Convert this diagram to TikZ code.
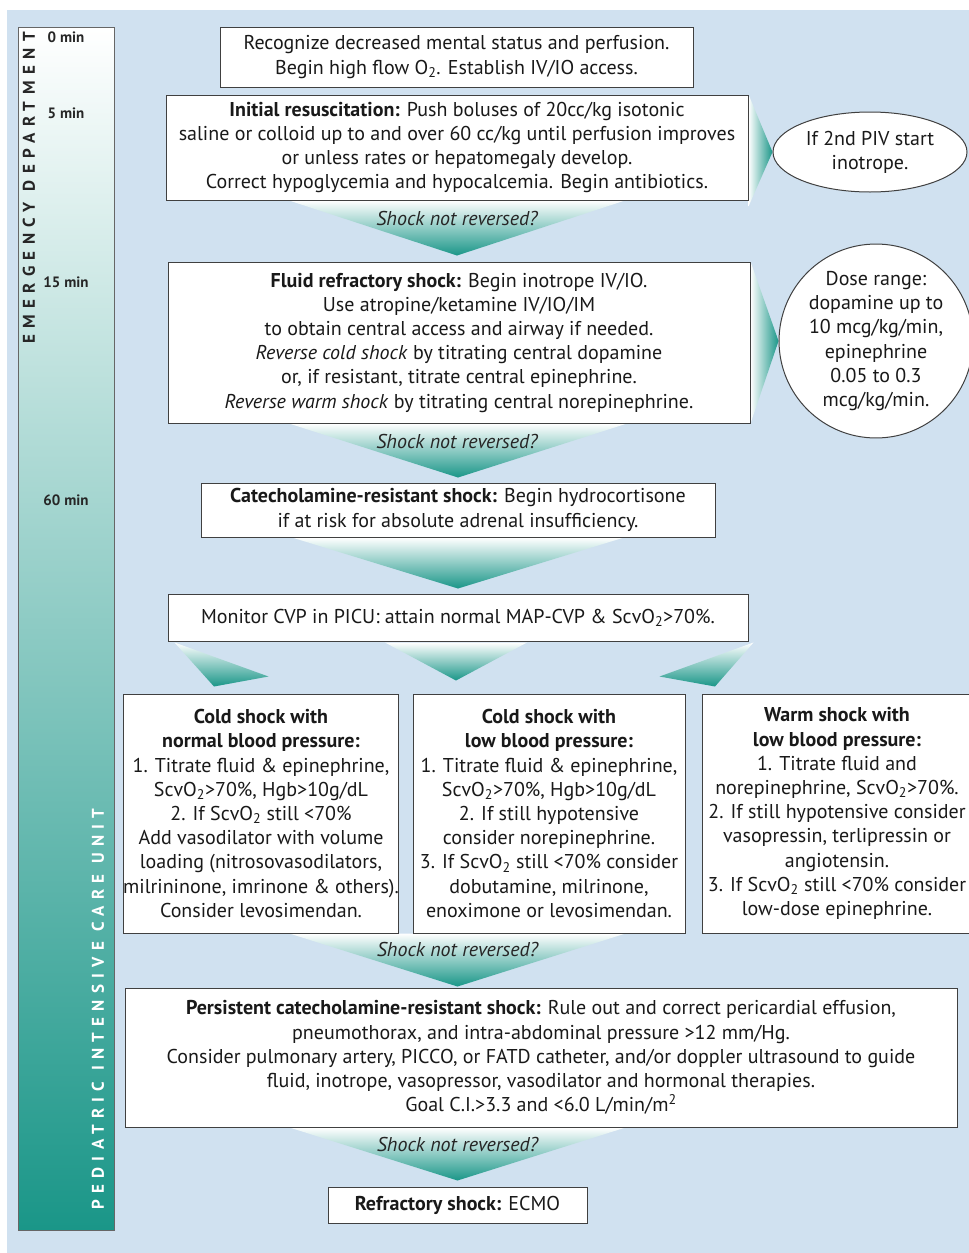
\documentclass[tikz,border=0pt]{standalone}
\usepackage{fontspec}
\setmainfont{PT Sans}
\usetikzlibrary{calc,shapes.geometric,backgrounds}
\definecolor{bgblue}{RGB}{208,225,240}
\definecolor{shockteal}{RGB}{26,150,136}

\begin{document}
\begin{tikzpicture}
[x=1pt,y=-1pt,
box/.style={draw=black!75,fill=white,line width=1pt,align=center,inner sep=0pt,text=black!90,font=\fontsize{20}{24.2}\selectfont},
bubble/.style={box,ellipse},
arrowdown/.style={top color=white,middle color=shockteal!30!white,bottom color=shockteal},
arrowright/.style={left color=white,middle color=shockteal!30!white,right color=shockteal},
shocktext/.style={font=\fontsize{20}{24}\selectfont\itshape,text=black!85},
minlabel/.style={font=\fontsize{15}{17}\selectfont\bfseries,text=black!85},
unitlabel/.style={rotate=90,font=\fontsize{17}{19}\selectfont\bfseries},
]

%Arrow sizes
\def\half{168}
\def\len{53}

\useasboundingbox (0,0) rectangle (969,1253);

%Time marks
\node[minlabel] (t0) at (66,37) {0 min};
\node[minlabel] (t5) at (66,113) {5 min};
\node[minlabel] (t15) at (66,282) {15 min};
\node[minlabel] (t60) at (66,500) {60 min};

%Units along the side bar
\node[unitlabel,text=black!85] (ed) at (29,188) {\addfontfeature{LetterSpace=38}EMERGENCY DEPARTMENT};
\node[unitlabel,text=white] (picu) at (98,1009) {\addfontfeature{LetterSpace=37}PEDIATRIC INTENSIVE CARE UNIT};

%Emergency department
\node[box,minimum width=473pt,minimum height=60pt] (recog) at (456.5,57) {Recognize decreased mental status and perfusion.\\Begin high flow O\textsubscript{2}. Establish IV/IO access.};
\node[box,minimum width=582pt,minimum height=105pt] (init) at (457,147.5) {\textbf{Initial resuscitation:} Push boluses of 20cc/kg isotonic\\saline or colloid up to and over 60 cc/kg until perfusion improves\\or unless rates or hepatomegaly develop.\\Correct hypoglycemia and hypocalcemia. Begin antibiotics.};
\node[bubble,minimum width=194pt,minimum height=80pt] (piv) at (870,152) {If 2nd PIV start\\inotrope.};
\node[box,minimum width=582pt,minimum height=161pt] (fluid) at (459,342.5) {\textbf{Fluid refractory shock:} Begin inotrope IV/IO.\\Use atropine/ketamine IV/IO/IM\\to obtain central access and airway if needed.\\\textit{Reverse cold shock} by titrating central dopamine\\or, if resistant, titrate central epinephrine.\\\textit{Reverse warm shock} by titrating central norepinephrine.};
\node[box,circle,minimum size=188pt] (dose) at (876,341) {Dose range:\\dopamine up to\\10 mcg/kg/min,\\epinephrine\\0.05 to 0.3\\mcg/kg/min.};
\node[box,minimum width=514pt,minimum height=54pt] (catech) at (458,510) {\textbf{Catecholamine-resistant shock:} Begin hydrocortisone\\if at risk for absolute adrenal insufficiency.};

%Pediatric intensive care unit
\node[box,minimum width=580pt,minimum height=47pt] (monitor) at (458,617.5) {Monitor CVP in PICU: attain normal MAP-CVP \& ScvO\textsubscript{2}>70\%.};
\node[box,minimum width=272pt,minimum height=239pt] (coldnormal) at (261,813.5) {\textbf{Cold shock with}\\\textbf{normal blood pressure:}\\1. Titrate fluid \& epinephrine,\\ScvO\textsubscript{2}>70\%, Hgb>10g/dL\\2. If ScvO\textsubscript{2} still <70\%\\Add vasodilator with volume\\loading (nitrosovasodilators,\\milrininone, imrinone \& others).\\Consider levosimendan.};
\node[box,minimum width=272pt,minimum height=239pt] (coldlow) at (549,813.5) {\textbf{Cold shock with}\\\textbf{low blood pressure:}\\1. Titrate fluid \& epinephrine,\\ScvO\textsubscript{2}>70\%, Hgb>10g/dL\\2. If still hypotensive\\consider norepinephrine.\\3. If ScvO\textsubscript{2} still <70\% consider\\dobutamine, milrinone,\\enoximone or levosimendan.};
\node[box,minimum width=270pt,minimum height=239pt] (warmlow) at (837,813.5) {\textbf{Warm shock with}\\\textbf{low blood pressure:}\\1. Titrate fluid and\\norepinephrine, ScvO\textsubscript{2}>70\%.\\2. If still hypotensive consider\\vasopressin, terlipressin or\\angiotensin.\\3. If ScvO\textsubscript{2} still <70\% consider\\low-dose epinephrine.};
\node[box,minimum width=832pt,minimum height=139pt] (persist) at (541,1057.5) {\textbf{Persistent catecholamine-resistant shock:} Rule out and correct pericardial effusion,\\pneumothorax, and intra-abdominal pressure >12 mm/Hg.\\Consider pulmonary artery, PICCO, or FATD catheter, and/or doppler ultrasound to guide\\fluid, inotrope, vasopressor, vasodilator and hormonal therapies.\\Goal C.I.>3.3 and <6.0 L/min/m\textsuperscript{2}};
\node[box,minimum width=259pt,minimum height=36pt] (ecmo) at (457.5,1205) {\textbf{Refractory shock:} ECMO};

%Questions on the arrows
\node[shocktext] (q1) at ($(init.south)+(0,18)$) {Shock not reversed?};
\node[shocktext] (q2) at ($(fluid.south)+(-2,18)$) {Shock not reversed?};
\node[shocktext] (q3) at (ecmo |- 0,949) {Shock not reversed?};
\node[shocktext] (q4) at ($(persist.south -| ecmo)+(0,17)$) {Shock not reversed?};

\begin{scope}[on background layer]
%Background and side bar
\fill[bgblue] (7,10) rectangle (969,1253);
\shadedraw[top color=white,middle color=shockteal!12!white,bottom color=shockteal,draw=black!60,line width=0.8pt] (18,27) rectangle (114,1230);

%Drawing arrows
\shade[arrowdown] ($(init.south)+(-\half,0)$) -- ($(init.south)+(\half,0)$) -- ($(init.south)+(0,\len+2)$) -- cycle;
\shade[arrowdown] ($(fluid.south)+(-\half-2,0)$) -- ($(fluid.south)+(\half,0)$) -- ($(fluid.south)+(-1,\len+1)$) -- cycle;
\shade[arrowdown] ($(catech.south)+(-\half+2,0)$) -- ($(catech.south)+(\half-2,0)$) -- ($(catech.south)+(0,\len-2)$) -- cycle;
\shade[arrowdown] ($(ecmo |- coldlow.south)+(-\half,0)$) -- ($(ecmo |- coldlow.south)+(\half,0)$) -- ($(ecmo |- coldlow.south)+(0,\len)$) -- cycle;
\shade[arrowdown] ($(ecmo |- persist.south)+(-\half,0)$) -- ($(ecmo |- persist.south)+(\half,0)$) -- ($(ecmo |- persist.south)+(0,\len)$) -- cycle;
\shade[arrowright] (init.north east) -- (piv.west) -- ($(init.south east)+(0,6)$) -- cycle;
\shade[arrowright] (fluid.north east) -- (dose.west) -- (fluid.south east) -- cycle;

%Split into the three kinds of shock
\shade[arrowdown] ($(monitor.south west)+(7,1)$) -- ($(monitor.south west)+(101,35)$) -- ($(coldnormal.north)+(-47,-7)$) -- cycle;
\shade[arrowdown] ($(monitor.south)+(-73,1)$) -- ($(monitor.south)+(69,1)$) -- ($(monitor.south)+(-2,39)$) -- cycle;
\shade[arrowdown] ($(monitor.south east)+(5,1)$) -- ($(monitor.south east)+(-89,35)$) -- ($(warmlow.north)+(-122,-7)$) -- cycle;
\end{scope}

\end{tikzpicture}
\end{document}
